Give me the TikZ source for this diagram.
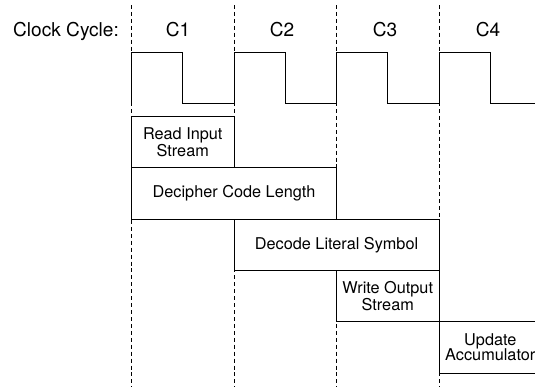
\documentclass[tikz,border=0pt]{standalone}
\usepackage{fontspec}
\setmainfont{TeX Gyre Heros}
\begin{document}
\begin{tikzpicture}[x=0.75pt,y=-0.75pt,
  hdr/.style={font=\fontsize{14.3}{15}\selectfont, inner sep=0pt, anchor=base},
  stage/.style={draw, fill=white, line width=0.75pt, rectangle, inner sep=0pt, outer sep=0pt,
    minimum width=76.9pt, minimum height=38.5pt, anchor=north west, align=center,
    font=\fontsize{12.2}{11.6}\selectfont},
  wide/.style={stage, minimum width=153.8pt},
  grid/.style={line width=0.6pt, dash pattern=on 3pt off 2.2pt},
  wave/.style={line width=0.75pt}]
\useasboundingbox (0,0) rectangle (535,387);

% cycle boundaries
\foreach \i/\x in {0/131.5,1/234,2/336.5,3/439}{
  \coordinate (t\i) at (\x,5);
  \coordinate (b\i) at (\x,387);
  \draw[grid] (t\i) -- (b\i);
}

% header labels
\node[hdr] (lbl) at (66,36) {Clock Cycle:};
\node[hdr] (c1) at (178,36) {C1};
\node[hdr] (c2) at (282,36) {C2};
\node[hdr] (c3) at (385,36) {C3};
\node[hdr] (c4) at (488,36) {C4};

% clock waveform
\draw[wave] (131.5,103) -- (131.5,52) -- (182.75,52) -- (182.75,103)
  -- (234,103) -- (234,52) -- (285.25,52) -- (285.25,103)
  -- (336.5,103) -- (336.5,52) -- (387.75,52) -- (387.75,103)
  -- (439,103) -- (439,52) -- (490.25,52) -- (490.25,103) -- (540,103);

% pipeline stages
\node[stage] (read) at (131.5,116.5) {Read Input\\Stream};
\node[wide] (decipher) at (131.5,167.8) {Decipher Code Length};
\node[wide] (decode) at (234,219.1) {Decode Literal Symbol};
\node[stage] (write) at (336.5,270.4) {Write Output\\Stream};
\begin{scope}
  \clip (0,0) rectangle (535,387);
  \node[stage] (update) at (439,321.7) {Update\\Accumulator};
\end{scope}
\end{tikzpicture}
\end{document}
